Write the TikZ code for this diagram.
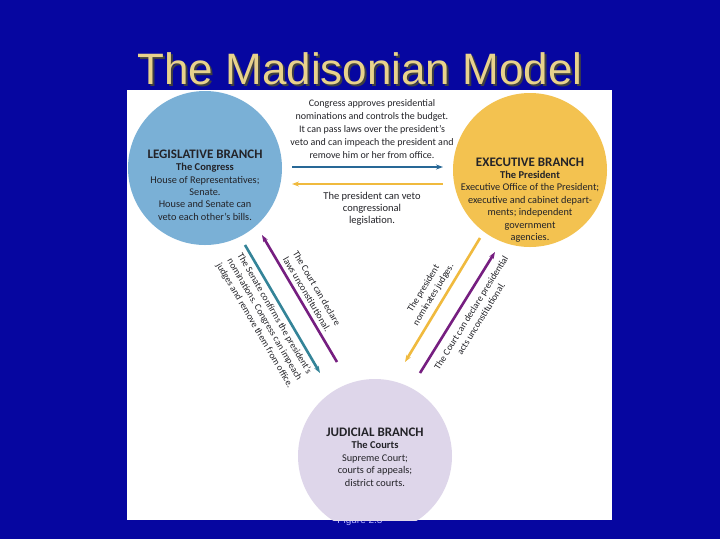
\documentclass[tikz,border=0pt]{standalone}
\usepackage{fontspec}
\setmainfont{Carlito}
\newfontfamily\titlefont{Liberation Sans}
\usepackage{xcolor}
\usetikzlibrary{arrows.meta,positioning,calc}
\definecolor{slidebg}{RGB}{6,6,160}
\definecolor{titlegold}{RGB}{232,210,140}
\definecolor{legblue}{RGB}{122,176,214}
\definecolor{exegold}{RGB}{243,194,80}
\definecolor{judlav}{RGB}{222,214,234}
\definecolor{ink}{RGB}{35,35,40}
\definecolor{navyarr}{RGB}{40,104,150}
\definecolor{goldarr}{RGB}{240,186,62}
\definecolor{tealarr}{RGB}{52,132,152}
\definecolor{purparr}{RGB}{118,30,128}
\tikzset{
  branch/.style={circle, minimum size=154pt, inner sep=0pt},
  btxt/.style={align=center, font=\fontsize{10.3}{12.4}\selectfont, text=ink, inner sep=0pt},
  note/.style={align=center, font=\fontsize{10}{13}\selectfont, text=ink, inner sep=1pt},
  chk/.style={line width=2.6pt, -{Stealth[length=7pt,width=5pt]}},
  chkback/.style={line width=2.6pt, {Stealth[length=7pt,width=5pt]}-},
  slbl/.style={sloped, align=center, font=\fontsize{9.5}{11.5}\selectfont, text=ink, inner sep=2pt},
}
\newcommand{\bhead}[1]{{\fontsize{13}{12.4}\selectfont\bfseries #1}}
\newcommand{\bsub}[1]{{\fontsize{10.5}{12.4}\selectfont\bfseries #1}}

\begin{document}
\begin{tikzpicture}[x=1pt,y=-1pt]
\fill[slidebg] (0,0) rectangle (720,539);
\node[font=\titlefont\fontsize{10}{12}\selectfont, text=blue!30!white] (fig) at (360,521) {Figure 2.3};
\node[font=\titlefont\fontsize{44}{50}\selectfont, text=black!75, inner sep=0pt] (shadow) at (362,71) {The Madisonian Model};
\node[font=\titlefont\fontsize{44}{50}\selectfont, text=titlegold, inner sep=0pt] (title) at (360,69) {The Madisonian Model};
\node[rectangle, fill=white, minimum width=485pt, minimum height=430pt, inner sep=0pt] (panel) at (369.5,305) {};

% the three branches
\begin{scope}
\clip (panel.north west) rectangle (panel.south east);
\node[branch, fill=legblue] (leg) at (205,168) {};
\node[branch, fill=exegold] (exe) at (530,170) {};
\node[branch, fill=judlav] (jud) at (375,456) {};
\end{scope}
\node[btxt] (legtxt) at ([yshift=-17pt]leg.center)
  {\bhead{LEGISLATIVE BRANCH}\\ \bsub{The Congress}\\ House of Representatives;\\ Senate.\\ House and Senate can\\ veto each other's bills.};
\node[btxt] (exetxt) at ([yshift=-30pt]exe.center)
  {\bhead{EXECUTIVE BRANCH}\\ \bsub{The President}\\ Executive Office of the President;\\ executive and cabinet depart-\\ ments; independent\\ government\\ agencies.};
\node[btxt] (judtxt) at ([yshift=-1pt]jud.center)
  {\bhead{JUDICIAL BRANCH}\\ \bsub{The Courts}\\ Supreme Court;\\ courts of appeals;\\ district courts.};

% checks between legislative and executive
\coordinate (le1) at (292,167);
\coordinate (el1) at (443,167);
\coordinate (le2) at (292,184);
\coordinate (el2) at (443,184);
\draw[chk, navyarr] (le1) -- (el1);
\draw[chkback, goldarr] (le2) -- (el2);
\node[note] (congnote) at (372,129)
  {Congress approves presidential\\ nominations and controls the budget.\\ It can pass laws over the president's\\ veto and can impeach the president and\\ remove him or her from office.};
\node[note, font=\fontsize{10.5}{12}\selectfont] (vetonote) at (372,209)
  {The president can veto\\ congressional\\ legislation.};

% checks between legislative and judicial
\coordinate (lj1) at (245,245);
\coordinate (jl1) at (320,373);
\coordinate (lj2) at (262,235);
\coordinate (jl2) at (337,362);
\draw[chk, tealarr] (lj1) -- node[slbl, below=2pt]
  {The Senate confirms the president's\\ nominations. Congress can impeach\\ judges and remove them from office.} (jl1);
\draw[chkback, purparr] (lj2) -- node[slbl, above=2pt]
  {The Court can declare\\ laws unconstitutional.} (jl2);

% checks between executive and judicial
\coordinate (je1) at (405,362);
\coordinate (ej1) at (480,238);
\coordinate (je2) at (420,373);
\coordinate (ej2) at (495,252);
\draw[chkback, goldarr] (je1) -- node[slbl, above=3pt]
  {The president\\ nominates judges.} (ej1);
\draw[chk, purparr] (je2) -- node[slbl, below=5pt, pos=0.55]
  {The Court can declare presidential\\ acts unconstitutional.} (ej2);
\end{tikzpicture}
\end{document}
